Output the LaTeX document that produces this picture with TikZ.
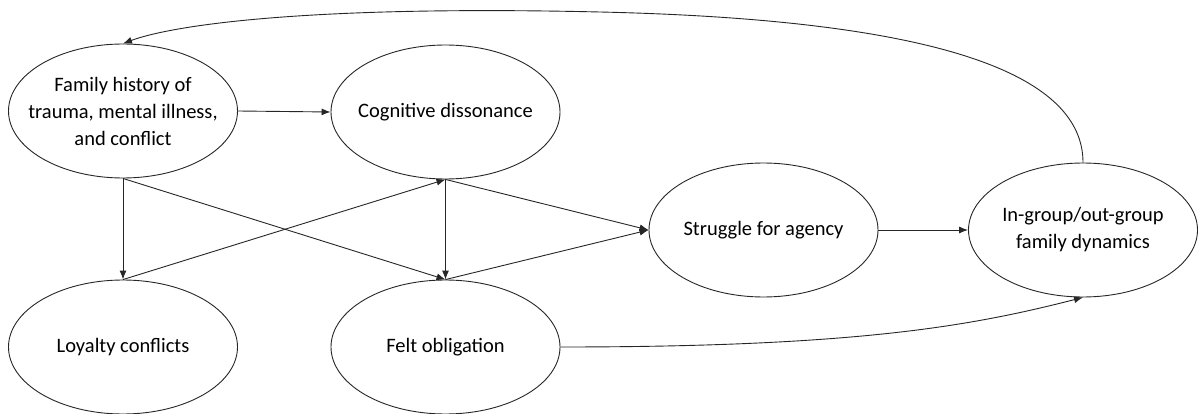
\documentclass[tikz,border=0pt]{standalone}
\usepackage{fontspec}
\setmainfont{Carlito}
\usetikzlibrary{shapes.geometric,arrows.meta}
\begin{document}
\begin{tikzpicture}[x=1pt,y=-1pt,
  concept/.style={draw=black!85, line width=0.9pt, ellipse, minimum width=229pt, minimum height=134pt, inner sep=0pt},
  conceptlabel/.style={align=center, inner sep=0pt, font=\fontsize{20.5}{27}\selectfont},
  link/.style={draw=black!85, line width=0.9pt, -{Latex[length=9pt,width=7pt]}}]
\useasboundingbox (0,0) rectangle (1199,414);
\node[concept] (fam) at (123,111) {};
\node[concept] (cog) at (445.5,112) {};
\node[concept] (loy) at (123,347) {};
\node[concept] (felt) at (445.5,347) {};
\node[concept] (str) at (763.5,230) {};
\node[concept] (ing) at (1083,230) {};
\node[conceptlabel] (famt) at ([yshift=-0pt]fam.center) {Family history of\\trauma, mental illness,\\and conflict};
\node[conceptlabel] (cogt) at (cog.center) {Cognitive dissonance};
\node[conceptlabel] (loyt) at (loy.center) {Loyalty conflicts};
\node[conceptlabel] (feltt) at (felt.center) {Felt obligation};
\node[conceptlabel] (strt) at (str.center) {Struggle for agency};
\node[conceptlabel] (ingt) at (ing.center) {In-group/out-group\\family dynamics};
\coordinate (peak) at (600,12);
\draw[link] (fam.east) -- (cog.west);
\draw[link] (fam.south) -- (loy.north);
\draw[link] (fam.south) -- (felt.north);
\draw[link] (loy.north) -- (cog.south);
\draw[link] (cog.south) -- (felt.north);
\draw[link] (cog.south) -- (str.west);
\draw[link] (felt.north) -- (str.west);
\draw[link] (str.east) -- (ing.west);
\draw[link] (felt.east) .. controls +(300,0) and +(-110,28) .. (ing.south);
\draw[link] (ing.north) .. controls +(0,-85) and (950,20) .. (peak) .. controls (300,5) and (170,26) .. (fam.north);
\end{tikzpicture}
\end{document}
